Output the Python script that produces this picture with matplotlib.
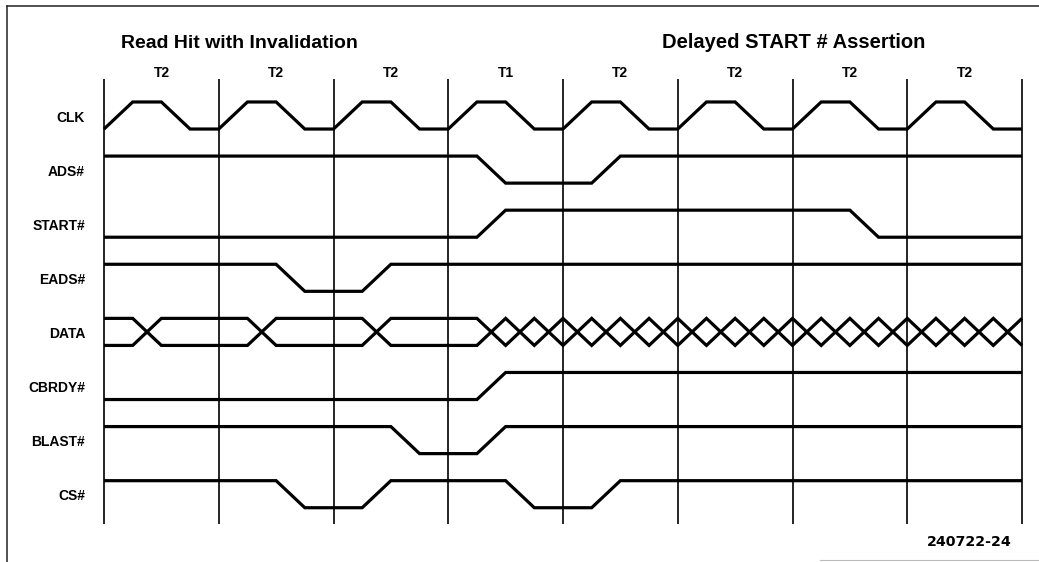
import matplotlib
matplotlib.use("Agg")
import matplotlib.pyplot as plt
from matplotlib.lines import Line2D

# ---------------- data ----------------
signal_names = ["CLK", "ADS#", "START#", "EADS#", "DATA", "CBRDY#", "BLAST#", "CS#"]
period_labels = ["T2", "T2", "T2", "T1", "T2", "T2", "T2", "T2"]
section_titles = ["Read Hit with Invalidation", "Delayed START # Assertion"]
figure_id = "240722-24"

# one clock cycle (time in periods, level 0=low 1=high), repeated per period
clk_cycle_t = [0.0, 0.25, 0.5, 0.75]
clk_cycle_v = [0, 1, 1, 0]

ads_t = [0, 3.25, 3.5, 4.25, 4.5, 8]
ads_v = [1, 1, 0, 0, 1, 1]

start_t = [0, 3.25, 3.5, 6.5, 6.75, 8]
start_v = [0, 0, 1, 1, 0, 0]

eads_t = [0, 1.5, 1.75, 2.25, 2.5, 8]
eads_v = [1, 1, 0, 0, 1, 1]

data_t = [0, 0.25, 0.5, 1.25, 1.5, 2.25, 2.5, 3.25,
          3.5, 3.75, 4.0, 4.25, 4.5, 4.75, 5.0, 5.25, 5.5, 5.75,
          6.0, 6.25, 6.5, 6.75, 7.0, 7.25, 7.5, 7.75, 8.0]
data_v = [1, 1, 0, 0, 1, 1, 0, 0,
          1, 0, 1, 0, 1, 0, 1, 0, 1, 0,
          1, 0, 1, 0, 1, 0, 1, 0, 1]

cbrdy_t = [0, 3.25, 3.5, 8]
cbrdy_v = [0, 0, 1, 1]

blast_t = [0, 2.5, 2.75, 3.25, 3.5, 8]
blast_v = [1, 1, 0, 0, 1, 1]

cs_t = [0, 1.5, 1.75, 2.25, 2.5, 3.5, 3.75, 4.25, 4.5, 8]
cs_v = [1, 1, 0, 0, 1, 1, 0, 0, 1, 1]

# ---------------- layout ----------------
W, H = 1039, 562
X0, PER = 104.0, 114.75          # pixel of t=0, pixels per period
Y0, ROW = 115.5, 54.1            # pixel of first row centre, row pitch
AMP = 0.25                       # half swing in row units

def ypx(p):
    return -(p - Y0) / ROW

def xpx(p):
    return (p - X0) / PER

fig = plt.figure(figsize=(W / 100, H / 100), dpi=100)
ax = fig.add_axes([0, 0, 1, 1])
ax.set_xlim(xpx(0), xpx(W))
ax.set_ylim(ypx(H), ypx(0))
ax.axis("off")

FONT = "Liberation Sans"
LW_SIG = 2.3
LW_GRID = 1.2
INK = "#000000"

n_periods = len(period_labels)

# clock edge lines
for k in range(n_periods + 1):
    ax.plot([k, k], [ypx(524), ypx(79)], color=INK, lw=LW_GRID,
            solid_capstyle="butt")

def draw(tt, vv, row):
    yy = [-row + (AMP if v else -AMP) for v in vv]
    ax.plot(tt, yy, color=INK, lw=LW_SIG, solid_capstyle="butt",
            solid_joinstyle="miter")

# CLK
clk_t, clk_v = [], []
for k in range(n_periods):
    for t, v in zip(clk_cycle_t, clk_cycle_v):
        clk_t.append(k + t)
        clk_v.append(v)
clk_t.append(n_periods)
clk_v.append(0)
draw(clk_t, clk_v, 0)
draw(ads_t, ads_v, 1)
draw(start_t, start_v, 2)
draw(eads_t, eads_v, 3)
draw(data_t, data_v, 4)
draw(data_t, [1 - v for v in data_v], 4)
draw(cbrdy_t, cbrdy_v, 5)
draw(blast_t, blast_v, 6)
draw(cs_t, cs_v, 7)

# signal labels
for i, name in enumerate(signal_names):
    ax.text(xpx(85), -i - 2 / ROW, name, ha="right", va="center", fontsize=10,
            fontweight="bold", family=FONT, color=INK)

# period labels
for k, lab in enumerate(period_labels):
    ax.text(k + 0.5, ypx(73), lab, ha="center", va="center", fontsize=10,
            fontweight="bold", family=FONT, color=INK)

# section titles
ax.text(xpx(239), ypx(43), section_titles[0], ha="center", va="center",
        fontsize=14, fontweight="bold", family=FONT, color=INK)
ax.text(xpx(794), ypx(43), section_titles[1], ha="center", va="center",
        fontsize=14.5, fontweight="bold", family=FONT, color=INK)

# figure id
ax.text(xpx(1012), ypx(542), figure_id, ha="right", va="center",
        fontsize=10.2, fontweight="bold", family="DejaVu Sans", color=INK)

# frame (top and left border)
fig.add_artist(Line2D([7 / W, 1], [1 - 6 / H, 1 - 6 / H], color="#222222",
                      lw=1.1, transform=fig.transFigure))
fig.add_artist(Line2D([7 / W, 7 / W], [0, 1 - 6 / H], color="#222222",
                      lw=1.1, transform=fig.transFigure))
fig.add_artist(Line2D([820 / W, 1], [1 - 560 / H, 1 - 560 / H], color="#bbbbbb",
                      lw=0.8, transform=fig.transFigure))

fig.savefig("out.png", dpi=100)
